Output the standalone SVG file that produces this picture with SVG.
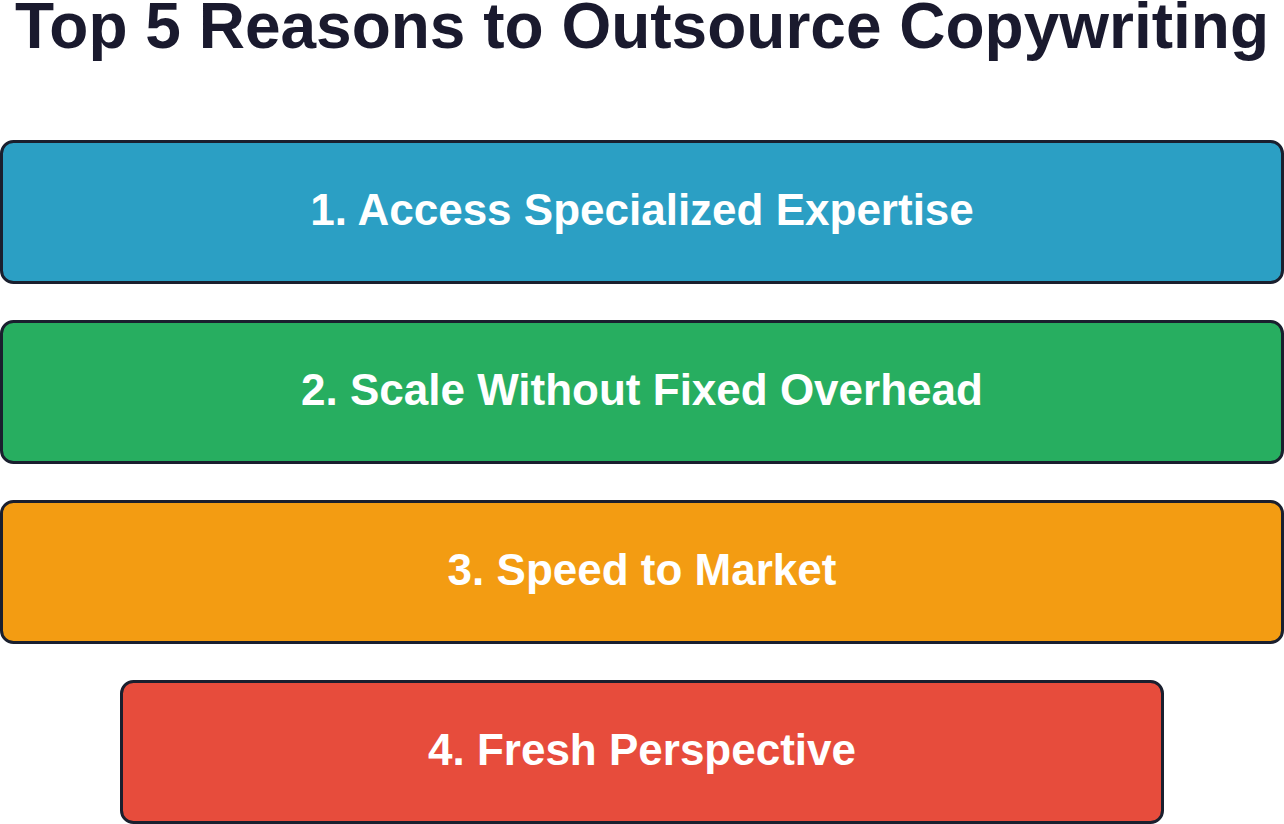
<svg xmlns="http://www.w3.org/2000/svg" width="1284" height="824" viewBox="0 0 1284 824">
<style>
.box{stroke:#1a1f2e;stroke-width:3}
.lbl{font-family:"Liberation Sans",Arial,sans-serif;font-weight:bold;font-size:44px;fill:#ffffff;text-anchor:middle}
.title{font-family:"Liberation Sans",Arial,sans-serif;font-weight:bold;font-size:64px;fill:#1a1a2e;text-anchor:middle}
</style>
<rect width="1284" height="824" fill="#ffffff"/>
<text class="title" x="642" y="48">Top 5 Reasons to Outsource Copywriting</text>
<g id="connectors"></g>
<g id="node1">
<rect class="box" x="1.5" y="141.5" width="1281" height="141" rx="12" fill="#2b9fc4"/>
<text class="lbl" x="642" y="225">1. Access Specialized Expertise</text>
</g>
<g id="node2">
<rect class="box" x="1.5" y="321.5" width="1281" height="141" rx="12" fill="#27ae60"/>
<text class="lbl" x="642" y="405">2. Scale Without Fixed Overhead</text>
</g>
<g id="node3">
<rect class="box" x="1.5" y="501.5" width="1281" height="141" rx="12" fill="#f39c12"/>
<text class="lbl" x="642" y="585">3. Speed to Market</text>
</g>
<g id="node4">
<rect class="box" x="121.5" y="681.5" width="1041" height="141" rx="12" fill="#e74c3c"/>
<text class="lbl" x="642" y="765">4. Fresh Perspective</text>
</g>
</svg>
